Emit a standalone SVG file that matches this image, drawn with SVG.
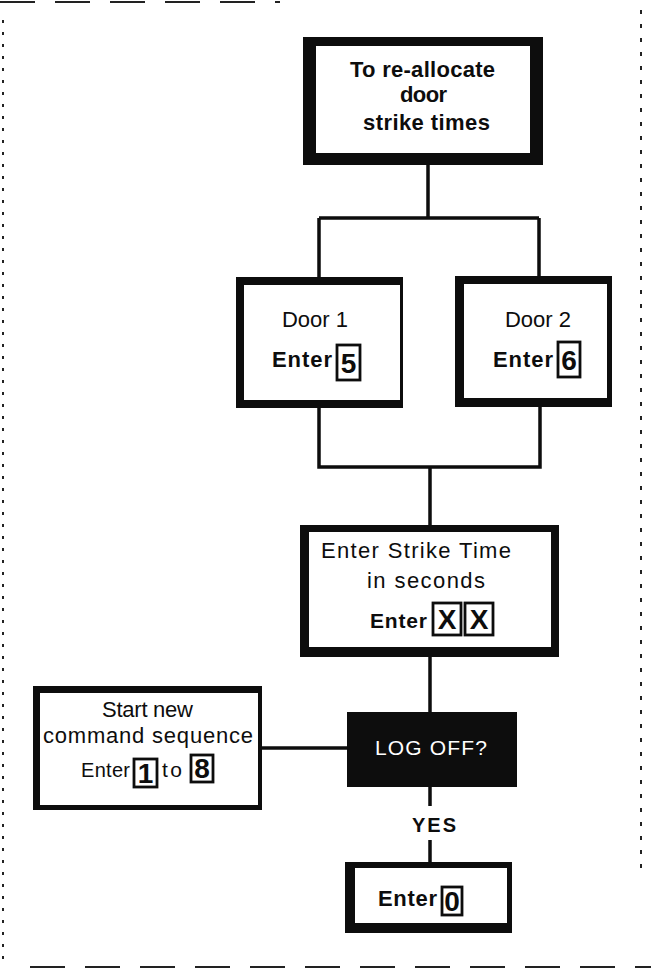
<svg xmlns="http://www.w3.org/2000/svg" width="651" height="972" viewBox="0 0 651 972">
<style>
.ink{fill:#0d0d0d}
.paper{fill:#ffffff}
.t{font-family:"Liberation Sans",Arial,sans-serif;fill:#0d0d0d}
.b{font-weight:bold}
.key{fill:#ffffff;stroke:#0d0d0d;stroke-width:2.8}
.dig{font-family:"Liberation Sans",Arial,sans-serif;font-weight:bold;font-size:28px;fill:#0d0d0d;text-anchor:middle}
.conn{stroke:#0d0d0d;stroke-width:3.5;fill:none}
.frame{stroke:#222;stroke-width:2;fill:none}
</style>
<rect width="651" height="972" fill="#ffffff"/>
<g id="frame">
<path class="frame" d="M0 2 H280" stroke-dasharray="35 20"/>
<path class="frame" d="M3 20 V960" stroke-dasharray="3 9" stroke-width="1.5"/>
<path class="frame" d="M641 10 V870" stroke-dasharray="4 10" stroke-width="1.5"/>
<path class="frame" d="M30 967 H651" stroke-dasharray="35 20" stroke-width="2.5"/>
</g>
<g id="connectors">
<path class="conn" d="M428 165 V218 M319 218 H539 M319 218 V278 M539 218 V277"/>
<path class="conn" d="M319 407 V467 H540 V407 M430 467 V526"/>
<path class="conn" d="M430 657 V712"/>
<path class="conn" d="M262 748 H347"/>
<path class="conn" d="M430 787 V806 M430 840 V862"/>
</g>
<g id="start">
<rect class="ink" x="303" y="37" width="240" height="128"/>
<rect class="paper" x="316" y="46" width="214" height="107"/>
<text class="t b" font-size="22" x="350" y="77" textLength="145">To re-allocate</text>
<text class="t b" font-size="22" x="400" y="102" textLength="47">door</text>
<text class="t b" font-size="22" x="363" y="130" textLength="127">strike times</text>
</g>
<g id="door1">
<rect class="ink" x="236" y="277" width="167" height="131"/>
<rect class="paper" x="244" y="285" width="156" height="115"/>
<text class="t" font-size="22" x="282" y="327" textLength="66">Door 1</text>
<text class="t b" font-size="22" x="272" y="367" textLength="60">Enter</text>
<rect class="key" x="337" y="345" width="23" height="35"/>
<text class="dig" x="348.5" y="373">5</text>
</g>
<g id="door2">
<rect class="ink" x="455" y="276" width="157" height="131"/>
<rect class="paper" x="464" y="284" width="143" height="114"/>
<text class="t" font-size="22" x="505" y="327" textLength="66">Door 2</text>
<text class="t b" font-size="22" x="493" y="367" textLength="60">Enter</text>
<rect class="key" x="558" y="342" width="22" height="35"/>
<text class="dig" x="569" y="370">6</text>
</g>
<g id="strike">
<rect class="ink" x="300" y="525" width="259" height="132"/>
<rect class="paper" x="309" y="532" width="242" height="115"/>
<text class="t" font-size="22" x="321" y="558" textLength="190">Enter Strike Time</text>
<text class="t" font-size="22" x="367" y="588" textLength="118">in seconds</text>
<text class="t b" font-size="21" x="370" y="628" textLength="57">Enter</text>
<rect class="key" x="433" y="603" width="28" height="32"/>
<text class="dig" x="447" y="629">X</text>
<rect class="key" x="465" y="603" width="28" height="32"/>
<text class="dig" x="479" y="629">X</text>
</g>
<g id="logoff">
<rect class="ink" x="347" y="712" width="170" height="75"/>
<text font-family="Liberation Sans,Arial,sans-serif" font-size="21" fill="#ffffff" x="375" y="755" textLength="112">LOG OFF?</text>
</g>
<g id="restart">
<rect class="ink" x="33" y="686" width="229" height="124"/>
<rect class="paper" x="40" y="693" width="218" height="112"/>
<text class="t" font-size="22" x="102" y="717" textLength="91">Start new</text>
<text class="t" font-size="22" x="43" y="743" textLength="210">command sequence</text>
<text class="t" font-size="20" x="81" y="777" textLength="49">Enter</text>
<rect class="key" x="134" y="759" width="23" height="28"/>
<text class="dig" font-size="25" x="145.5" y="783">1</text>
<text class="t" font-size="21" x="162" y="777" textLength="20">to</text>
<rect class="key" x="191" y="755" width="22" height="27"/>
<text class="dig" font-size="25" x="202" y="778">8</text>
</g>
<g id="yes-label">
<text class="t b" font-size="20" x="412" y="832" textLength="44">YES</text>
</g>
<g id="logout">
<rect class="ink" x="345" y="862" width="167" height="71"/>
<rect class="paper" x="355" y="868" width="152" height="55"/>
<text class="t b" font-size="22" x="378" y="906" textLength="59">Enter</text>
<rect class="key" x="442" y="887" width="20" height="28"/>
<text class="dig" font-size="25" x="452" y="911">0</text>
</g>
</svg>
